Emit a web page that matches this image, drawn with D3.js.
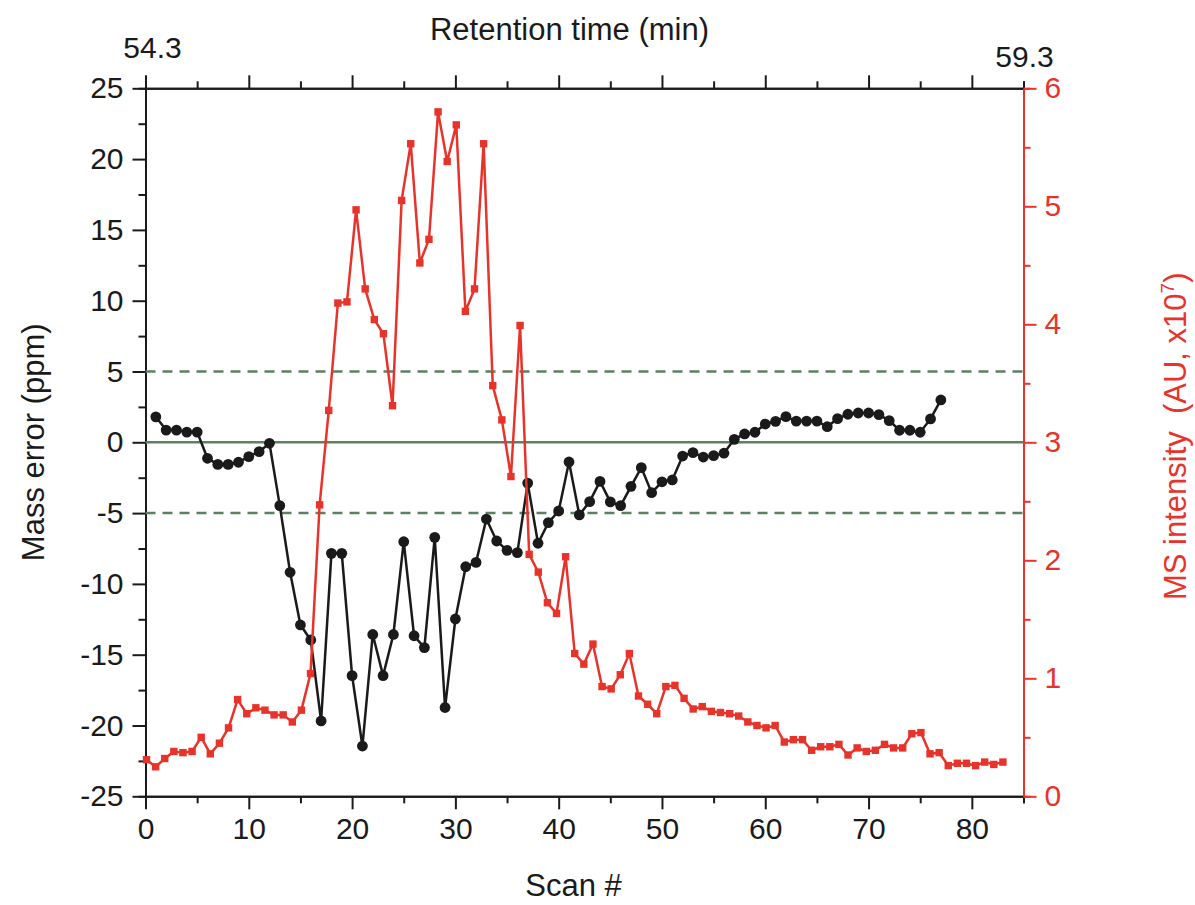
<!DOCTYPE html>
<html>
<head>
<meta charset="utf-8">
<script src="https://cdn.jsdelivr.net/npm/d3@7"></script>
<style>
    body { margin: 0; background: #fff; }
    text { font-family: Arial, "Liberation Sans", sans-serif; }
</style>
</head>
<body>
<div id="chart"></div>
<script>
// Mass error (ppm) for scans 1..77
var massError = [1.8, 0.86, 0.86, 0.72, 0.72, -1.13, -1.56, -1.56, -1.41, -1.01,
    -0.66, -0.07, -4.47, -9.18, -12.9, -13.96, -19.68, -7.84, -7.84, -16.48,
    -21.45, -13.57, -16.48, -13.57, -7.02, -13.66, -14.5, -6.71, -18.73, -12.48,
    -8.79, -8.48, -5.42, -6.97, -7.63, -7.79, -2.88, -7.13, -5.67, -4.85,
    -1.39, -5.13, -4.19, -2.76, -4.21, -4.47, -3.11, -1.79, -3.56, -2.79,
    -2.66, -0.97, -0.73, -1.04, -0.94, -0.77, 0.21, 0.59, 0.71, 1.29,
    1.48, 1.81, 1.5, 1.5, 1.5, 1.1, 1.67, 1.98, 2.07, 2.07,
    1.95, 1.53, 0.85, 0.85, 0.71, 1.65, 2.99];

// MS intensity (x10^7), sampled every redStep scans from redStart
var msIntensity = [0.31, 0.25, 0.32, 0.38, 0.37, 0.38, 0.50, 0.36, 0.45, 0.58,
    0.82, 0.70, 0.75, 0.73, 0.69, 0.69, 0.63, 0.73, 1.04, 2.47,
    3.27, 4.18, 4.19, 4.97, 4.30, 4.04, 3.92, 3.31, 5.05, 5.53,
    4.52, 4.72, 5.80, 5.38, 5.69, 4.11, 4.30, 5.53, 3.48, 3.19,
    2.71, 3.99, 2.05, 1.90, 1.64, 1.55, 2.03, 1.21, 1.12, 1.29,
    0.93, 0.91, 1.03, 1.21, 0.85, 0.78, 0.70, 0.93, 0.94, 0.83,
    0.74, 0.76, 0.72, 0.71, 0.70, 0.68, 0.63, 0.60, 0.58, 0.60,
    0.46, 0.48, 0.48, 0.39, 0.42, 0.42, 0.44, 0.35, 0.41, 0.38,
    0.39, 0.44, 0.41, 0.41, 0.53, 0.54, 0.36, 0.37, 0.26, 0.28,
    0.28, 0.26, 0.29, 0.27, 0.29];
var redStart = 0.1;
var redStep = 0.882;

var xTicks = [0, 10, 20, 30, 40, 50, 60, 70, 80];
var xMinor = [5, 15, 25, 35, 45, 55, 65, 75, 85];
var yLeftTicks = [-25, -20, -15, -10, -5, 0, 5, 10, 15, 20, 25];
var yRightTicks = [0, 1, 2, 3, 4, 5, 6];
var refLines = [-5, 0, 5];
var timeLabels = ['54.3', '59.3'];

var svgWidth = 1195;
var svgHeight = 905;

var margin = { top: 88.3, right: 171.5, bottom: 108.7, left: 145.5 };
var chartWidth = svgWidth - margin.left - margin.right;
var chartHeight = svgHeight - margin.top - margin.bottom;

var red = '#e8332b';
var green = '#5d8160';
var black = '#1a1a1a';

var svg = d3.select('#chart')
    .append('svg')
    .attr('width', svgWidth)
    .attr('height', svgHeight);

var chartGroup = svg.append('g')
    .attr('transform', `translate(${margin.left}, ${margin.top})`);

// Scales
var xScale = d3.scaleLinear().domain([0, 85]).range([0, chartWidth]);
var yLeft = d3.scaleLinear().domain([-25, 25]).range([chartHeight, 0]);
var yRight = d3.scaleLinear().domain([0, 6]).range([chartHeight, 0]);

function styleAxis(g, color) {
    g.select('.domain').attr('stroke', color).attr('stroke-width', 2);
    g.selectAll('.tick line').attr('stroke', color).attr('stroke-width', 2);
    g.selectAll('.tick text')
        .attr('fill', color)
        .style('font-size', '30px')
        .style('font-family', 'Arial, "Liberation Sans", sans-serif');
}

// Minor ticks first
chartGroup.append('g')
    .attr('transform', `translate(0, ${chartHeight})`)
    .call(d3.axisBottom(xScale).tickValues(xMinor).tickSize(7).tickFormat(''))
    .call((g) => styleAxis(g, black));
chartGroup.append('g')
    .call(d3.axisTop(xScale).tickValues(xMinor).tickSize(7).tickFormat(''))
    .call((g) => styleAxis(g, black));
chartGroup.append('g')
    .call(d3.axisLeft(yLeft).tickValues(d3.range(-22.5, 25, 5)).tickSize(7).tickFormat(''))
    .call((g) => styleAxis(g, black));
chartGroup.append('g')
    .attr('transform', `translate(${chartWidth}, 0)`)
    .call(d3.axisRight(yRight).tickValues(d3.range(0.5, 6, 1)).tickSize(7).tickFormat(''))
    .call((g) => styleAxis(g, red));

// Major axes
chartGroup.append('g')
    .attr('transform', `translate(0, ${chartHeight})`)
    .call(d3.axisBottom(xScale).tickValues(xTicks).tickSize(13).tickPadding(8).tickSizeOuter(0))
    .call((g) => styleAxis(g, black));

chartGroup.append('g')
    .call(d3.axisTop(xScale).tickValues(xTicks).tickSize(13).tickFormat('').tickSizeOuter(0))
    .call((g) => styleAxis(g, black));

chartGroup.append('g')
    .call(d3.axisLeft(yLeft).tickValues(yLeftTicks).tickSize(13).tickPadding(9).tickSizeOuter(0)
        .tickFormat((d) => d < 0 ? '-' + Math.abs(d) : d))
    .call((g) => styleAxis(g, black));

chartGroup.append('g')
    .attr('transform', `translate(${chartWidth}, 0)`)
    .call(d3.axisRight(yRight).tickValues(yRightTicks).tickSize(13).tickPadding(8).tickSizeOuter(0)
        .tickFormat(d3.format('d')))
    .call((g) => styleAxis(g, red));

// Reference lines at 0 and +-5 ppm
chartGroup.selectAll('.refLine')
    .data(refLines)
    .enter()
    .append('line')
    .attr('x1', 0)
    .attr('x2', chartWidth)
    .attr('y1', (d) => yLeft(d))
    .attr('y2', (d) => yLeft(d))
    .attr('stroke', green)
    .attr('stroke-width', 2.5)
    .attr('stroke-dasharray', (d) => d === 0 ? null : '10,7');

// Mass error series
var blackData = massError.map((v, i) => ({ x: i + 1, y: v }));
var lineBlack = d3.line().x((d) => xScale(d.x)).y((d) => yLeft(d.y));

chartGroup.append('path')
    .datum(blackData)
    .attr('d', lineBlack)
    .attr('fill', 'none')
    .attr('stroke', black)
    .attr('stroke-width', 2.5);

chartGroup.selectAll('.errPoint')
    .data(blackData)
    .enter()
    .append('circle')
    .attr('cx', (d) => xScale(d.x))
    .attr('cy', (d) => yLeft(d.y))
    .attr('r', 5.4)
    .attr('fill', black);

// Intensity series
var redData = msIntensity.map((v, i) => ({ x: redStart + i * redStep, y: v }));
var lineRed = d3.line().x((d) => xScale(d.x)).y((d) => yRight(d.y));

chartGroup.append('path')
    .datum(redData)
    .attr('d', lineRed)
    .attr('fill', 'none')
    .attr('stroke', red)
    .attr('stroke-width', 2.5);

chartGroup.selectAll('.intPoint')
    .data(redData)
    .enter()
    .append('rect')
    .attr('x', (d) => xScale(d.x) - 3.7)
    .attr('y', (d) => yRight(d.y) - 3.7)
    .attr('width', 7.4)
    .attr('height', 7.4)
    .attr('fill', red);

// Titles
svg.append('text')
    .attr('x', margin.left + chartWidth / 2 - 15)
    .attr('y', 40)
    .attr('text-anchor', 'middle')
    .style('font-size', '31px')
    .attr('fill', black)
    .text('Retention time (min)');

svg.append('text')
    .attr('x', margin.left + 7)
    .attr('y', 58)
    .attr('text-anchor', 'middle')
    .style('font-size', '30px')
    .attr('fill', black)
    .text(timeLabels[0]);

svg.append('text')
    .attr('x', margin.left + chartWidth + 1)
    .attr('y', 67)
    .attr('text-anchor', 'middle')
    .style('font-size', '30px')
    .attr('fill', black)
    .text(timeLabels[1]);

svg.append('text')
    .attr('x', margin.left + chartWidth / 2 - 11)
    .attr('y', 896)
    .attr('text-anchor', 'middle')
    .style('font-size', '31px')
    .attr('fill', black)
    .text('Scan #');

svg.append('text')
    .attr('transform', `translate(44, ${margin.top + chartHeight / 2}) rotate(-90)`)
    .attr('text-anchor', 'middle')
    .style('font-size', '31px')
    .attr('fill', black)
    .text('Mass error (ppm)');

var rightLabel = svg.append('text')
    .attr('transform', `translate(1186, ${margin.top + chartHeight / 2 - 6}) rotate(-90)`)
    .attr('text-anchor', 'middle')
    .style('font-size', '31px')
    .attr('fill', red);
rightLabel.append('tspan').text('MS intensity \u00a0(AU, x10');
rightLabel.append('tspan').attr('dy', -12).style('font-size', '19px').text('7');
rightLabel.append('tspan').attr('dy', 12).text(')');
</script>
</body>
</html>
